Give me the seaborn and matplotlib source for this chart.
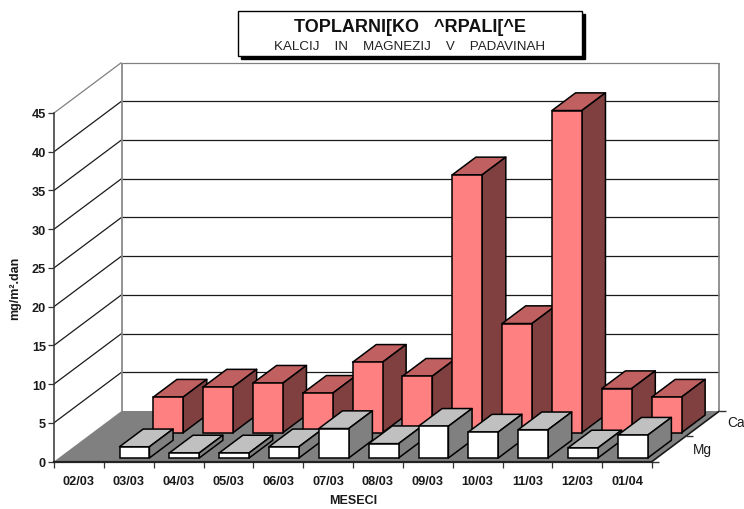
import numpy as np
import pandas as pd
import matplotlib
matplotlib.use("Agg")
import matplotlib.pyplot as plt
from matplotlib.patches import Polygon, Rectangle
from matplotlib.ticker import FixedLocator
import seaborn as sns

# data
months = ["02/03", "03/03", "04/03", "05/03", "06/03", "07/03",
          "08/03", "09/03", "10/03", "11/03", "12/03", "01/04"]
ca = [np.nan, 4.6, 5.9, 6.4, 5.1, 9.1, 7.3, 33.3, 14.1, 41.6, 5.7, 4.6]
mg = [np.nan, 1.45, 0.65, 0.65, 1.45, 3.8, 1.85, 4.1, 3.35, 3.65, 1.3, 2.95]
yticks = [0, 5, 10, 15, 20, 25, 30, 35, 40, 45]
series_names = ["Ca", "Mg"]

W, H = 744, 510
FONT = "Liberation Sans"

sns.set_theme(style="ticks")
plt.rcParams["font.family"] = [FONT, "DejaVu Sans"]

fig = plt.figure(figsize=(W / 100, H / 100), dpi=100, facecolor="white")
ax = fig.add_axes([54 / W, (H - 462.5) / H, 598 / W, 348.5 / H])

# depth of the floor, in data units of each axis
DEPTH_X = 67.5 / (598 / 12)
DEPTH_Y = 50.5 / (348.5 / 45)


def proj(x, y, d):
    return (x + d * DEPTH_X, y + d * DEPTH_Y)


def poly(points, **kws):
    kws.setdefault("clip_on", False)
    ax.add_patch(Polygon(points, closed=True, **kws))


def line(p, q, color="#1a1a1a", lw=0.9, z=1.2):
    ax.plot([p[0], q[0]], [p[1], q[1]], color=color, lw=lw, zorder=z,
            clip_on=False, solid_capstyle="butt")


df = pd.DataFrame({"mesec": months, "Ca": ca, "Mg": mg})
sns.barplot(data=df, x="mesec", y="Ca", order=months, width=0.6, errorbar=None,
            color="#FF8080", saturation=1, edgecolor="black", linewidth=1.1, ax=ax)
n_ca = len(ax.patches)
sns.barplot(data=df, x="mesec", y="Mg", order=months, width=0.6, errorbar=None,
            color="white", saturation=1, edgecolor="black", linewidth=1.1, ax=ax)
bars = list(ax.patches)

x0, x1 = -0.5, 11.5
ax.set_xlim(x0, x1)
ax.set_ylim(0, 45)

# walls and floor
poly([proj(x0, 0, 0), proj(x1, 0, 0), proj(x1, 0, 1), proj(x0, 0, 1)],
     facecolor="#808080", edgecolor="none", zorder=1)
for v in yticks[1:]:
    c = "#808080" if v == 45 else "#1a1a1a"
    line(proj(x0, v, 0), proj(x0, v, 1), color=c)
    line(proj(x0, v, 1), proj(x1, v, 1), color=c)
line(proj(x0, 0, 1), proj(x0, 45, 1), color="#808080", lw=1.2)
line(proj(x1, 0, 1), proj(x1, 45, 1), color="#808080", lw=1.2)
line(proj(x1, 0, 0), proj(x1, 0, 1), color="#1a1a1a", lw=1.2)

# depth axis ticks
for d in [0, 0.5, 1]:
    p = proj(x1, 0, d)
    line(p, (p[0] + 7 / (598 / 12), p[1]), color="#333333", lw=1.0)

# turn the flat bars into boxes, left to right so later bars cover earlier ones
BAR_D = 0.35
faces = {
    "Ca": ("#C06060", "#804040", 0.57),
    "Mg": ("#C0C0C0", "#808080", 0.07),
}
z = 3.0
for i, bar in enumerate(bars):
    name = "Ca" if i < n_ca else "Mg"
    top_c, side_c, d = faces[name]
    left, width, h = bar.get_x() + 0.02, bar.get_width(), bar.get_height()
    fx, fy = proj(left, 0, d)
    bx, by = proj(left, 0, d + BAR_D)
    bar.set_x(fx)
    bar.set_y(fy)
    bar.set_zorder(z + 0.2)
    bar.set_clip_on(False)
    edge = dict(edgecolor="black", linewidth=1.1, joinstyle="round", zorder=z)
    poly([(fx, fy + h), (fx + width, fy + h), (bx + width, by + h), (bx, by + h)],
         facecolor=top_c, **edge)
    poly([(fx + width, fy), (bx + width, by), (bx + width, by + h), (fx + width, fy + h)],
         facecolor=side_c, **edge)
    z += 0.5

# axes
sns.despine(ax=ax, top=True, right=True)
ax.spines["left"].set_color("#333333")
ax.spines["left"].set_linewidth(1.1)
ax.spines["bottom"].set_color("#222222")
ax.spines["bottom"].set_linewidth(1.6)
ax.set_yticks(yticks)
ax.set_xticks(range(len(months)))
ax.set_xticklabels(months)
ax.xaxis.set_minor_locator(FixedLocator(np.arange(x0, x1 + 1)))
ax.tick_params(axis="x", which="major", length=0, pad=9.5, labelsize=9.2, labelcolor="#1a1a1a")
ax.tick_params(axis="x", which="minor", length=4.6, width=0.9, color="#333333")
ax.tick_params(axis="y", length=4.2, width=0.9, color="#333333", pad=1.5, labelsize=9.2,
               labelcolor="#1a1a1a")
for t in ax.get_xticklabels() + ax.get_yticklabels():
    t.set_fontweight("bold")
ax.set_xlabel("MESECI", fontsize=9, fontweight="bold", color="#1a1a1a", labelpad=5.5)
ax.set_ylabel("")
fig.text(15.5 / W, 1 - 288 / H, "mg/m².dan", rotation=90, ha="center", va="center",
         fontsize=9, fontweight="bold", color="#1a1a1a")

# depth axis labels
fig.text(727 / W, 1 - 423 / H, series_names[0], ha="left", va="center", fontsize=9.8, color="#1a1a1a")
fig.text(693 / W, 1 - 450 / H, series_names[1], ha="left", va="center", fontsize=9.8, color="#1a1a1a")

# title box with shadow
for off, fc in [(3, "black"), (0, "white")]:
    fig.add_artist(Rectangle(((238 + off) / W, 1 - (57 + off) / H), 344 / W, 45 / H,
                             transform=fig.transFigure, facecolor=fc, edgecolor="black", linewidth=1.0))
fig.text(410 / W, 1 - 27 / H, "TOPLARNI[KO   ^RPALI[^E", ha="center", va="center",
         fontsize=13, fontweight="bold", color="#111111")
fig.text(410 / W, 1 - 47.5 / H, "KALCIJ    IN    MAGNEZIJ    V    PADAVINAH", ha="center", va="center",
         fontsize=9.6, color="#222222")

fig.savefig("out.png", dpi=100, facecolor="white")
